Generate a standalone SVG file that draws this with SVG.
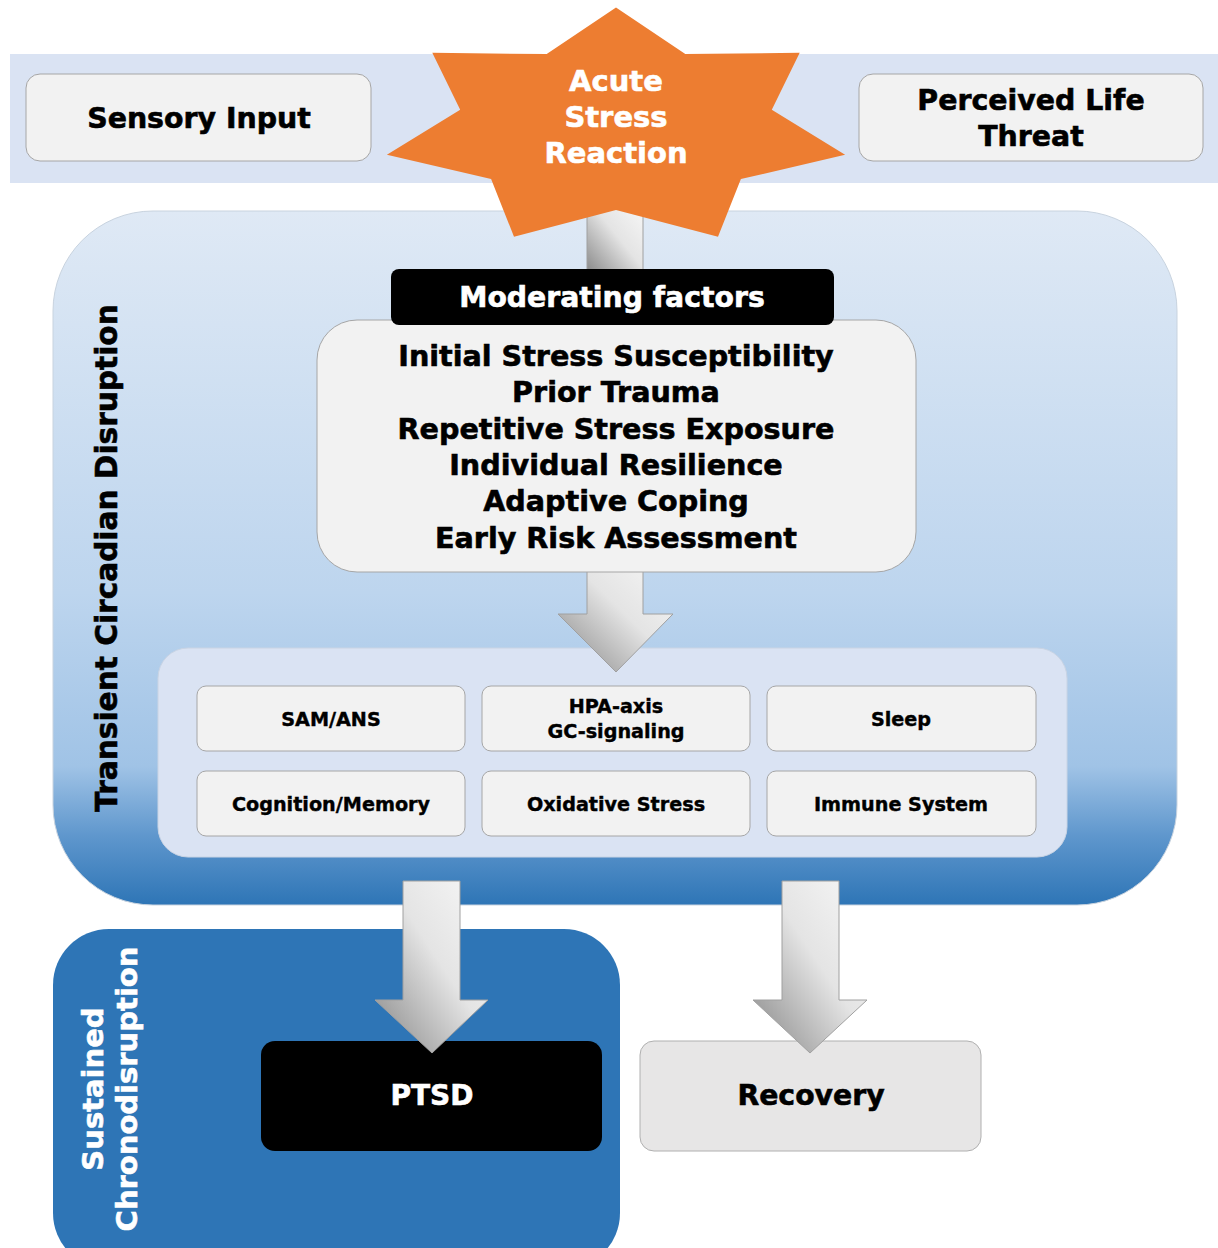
<svg xmlns="http://www.w3.org/2000/svg" width="1218" height="1248" viewBox="0 0 1218 1248">
<defs>
<linearGradient id="gTrans" x1="0" y1="0" x2="0" y2="1">
<stop offset="0" stop-color="#dfe9f5"/>
<stop offset="0.55" stop-color="#bdd5ee"/>
<stop offset="0.8" stop-color="#a0c3e6"/>
<stop offset="0.9" stop-color="#5f97cd"/>
<stop offset="1" stop-color="#2e75b6"/>
</linearGradient>
<linearGradient id="gArrow" x1="0" y1="1" x2="1" y2="0">
<stop offset="0" stop-color="#868686"/>
<stop offset="0.55" stop-color="#e4e4e4"/>
<stop offset="1" stop-color="#f7f7f7"/>
</linearGradient>
<style>
text{font-family:"DejaVu Sans","Verdana",sans-serif;font-weight:bold;text-anchor:middle;stroke-width:0.6;}
.lt{fill:#f2f2f2;stroke:#a6a6a6;stroke-width:1;}
.t28s{font-size:28.4px;}
.t28{font-size:28px;}
.t19{font-size:19.2px;fill:#000;stroke:#000;stroke-width:0.4;}
.w{fill:#fff;stroke:#fff;}
.k{fill:#000;stroke:#000;}
.arrow{fill:url(#gArrow);stroke:#a0a0a0;stroke-width:1;}
</style>
</defs>

<g id="band">
<rect x="10" y="54" width="1208" height="129" fill="#dae3f3"/>
</g>

<g id="transient-region">
<rect x="53" y="211" width="1124" height="694" rx="100" ry="100" fill="url(#gTrans)" stroke="#c8d3df" stroke-width="1"/>
<text class="k" style="font-size:29.6px" transform="translate(117,558) rotate(-90)">Transient Circadian Disruption</text>
</g>

<g id="systems-container">
<rect x="158" y="648" width="909" height="209" rx="30" ry="30" fill="#dae3f3" stroke="#c9d4e4" stroke-width="1"/>
</g>

<g id="sustained-region">
<rect x="53" y="929" width="567" height="340" rx="56" ry="56" fill="#2e75b6"/>
<text class="w" style="font-size:29px" transform="translate(103,1089) rotate(-90)">Sustained</text>
<text class="w" style="font-size:29px" transform="translate(137,1089) rotate(-90)">Chronodisruption</text>
</g>

<g id="ptsd">
<rect x="261" y="1041" width="341" height="110" rx="14" ry="14" fill="#000"/>
<text class="t28 w" x="432" y="1105">PTSD</text>
</g>

<g id="recovery">
<rect x="640" y="1041" width="341" height="110" rx="14" ry="14" fill="#e7e6e6" stroke="#b0b0b0" stroke-width="1"/>
<text class="k" style="font-size:28.3px" x="811" y="1105">Recovery</text>
</g>

<g id="connectors">
<path class="arrow" d="M587,205 L643,205 L643,275 L587,275 Z"/>
<path class="arrow" d="M587,560 L643,560 L643,614 L673,614 L616,672 L558,614 L587,614 Z"/>
<path class="arrow" d="M403,881 L460,881 L460,1000 L488,1000 L432,1053 L375,1000 L403,1000 Z"/>
<path class="arrow" d="M782,881 L839,881 L839,1000 L867,1000 L810,1053 L753,1000 L782,1000 Z"/>
</g>

<g id="acute-stress-reaction">
<polygon fill="#ed7d31" points="616,7.4 685.3,54.1 799.7,52.8 771.8,109.8 845.1,154.8 740.9,179.1 718,236.7 616,210 514,236.7 491.1,179.1 386.9,154.8 460.2,109.8 432.3,52.8 546.7,54.1"/>
<text class="w" style="font-size:29px" x="616" y="91">Acute</text>
<text class="w" style="font-size:29px" x="616" y="127">Stress</text>
<text class="w" style="font-size:29px" x="616" y="163">Reaction</text>
</g>

<g id="sensory-input">
<rect class="lt" x="26" y="74" width="345" height="87" rx="14" ry="14"/>
<text class="t28s k" x="199" y="128">Sensory Input</text>
</g>

<g id="perceived-life-threat">
<rect class="lt" x="859" y="74" width="344" height="87" rx="14" ry="14"/>
<text class="t28s k" x="1031" y="110">Perceived Life</text>
<text class="t28s k" x="1031" y="146">Threat</text>
</g>

<g id="moderating-factors-list">
<rect class="lt" x="317" y="320" width="599" height="252" rx="40" ry="40"/>
<text class="k" style="font-size:28.6px" x="616" y="366">Initial Stress Susceptibility</text>
<text class="k" style="font-size:28.6px" x="616" y="402">Prior Trauma</text>
<text class="k" style="font-size:28.6px" x="616" y="439">Repetitive Stress Exposure</text>
<text class="k" style="font-size:28.6px" x="616" y="475">Individual Resilience</text>
<text class="k" style="font-size:28.6px" x="616" y="511">Adaptive Coping</text>
<text class="k" style="font-size:28.6px" x="616" y="548">Early Risk Assessment</text>
</g>

<g id="moderating-factors-header">
<rect x="391" y="269" width="443" height="56" rx="8" ry="8" fill="#000"/>
<text class="w" style="font-size:28.3px" x="612" y="307">Moderating factors</text>
</g>

<g id="sam-ans">
<rect class="lt" x="197" y="686" width="268" height="65" rx="9" ry="9"/>
<text class="t19" x="331" y="726">SAM/ANS</text>
</g>
<g id="hpa-axis">
<rect class="lt" x="482" y="686" width="268" height="65" rx="9" ry="9"/>
<text class="t19" x="616" y="713">HPA-axis</text>
<text class="t19" x="616" y="738">GC-signaling</text>
</g>
<g id="sleep">
<rect class="lt" x="767" y="686" width="269" height="65" rx="9" ry="9"/>
<text class="t19" x="901" y="726">Sleep</text>
</g>
<g id="cognition-memory">
<rect class="lt" x="197" y="771" width="268" height="65" rx="9" ry="9"/>
<text class="t19" x="331" y="811">Cognition/Memory</text>
</g>
<g id="oxidative-stress">
<rect class="lt" x="482" y="771" width="268" height="65" rx="9" ry="9"/>
<text class="t19" x="616" y="811">Oxidative Stress</text>
</g>
<g id="immune-system">
<rect class="lt" x="767" y="771" width="269" height="65" rx="9" ry="9"/>
<text class="t19" x="901" y="811">Immune System</text>
</g>
</svg>
